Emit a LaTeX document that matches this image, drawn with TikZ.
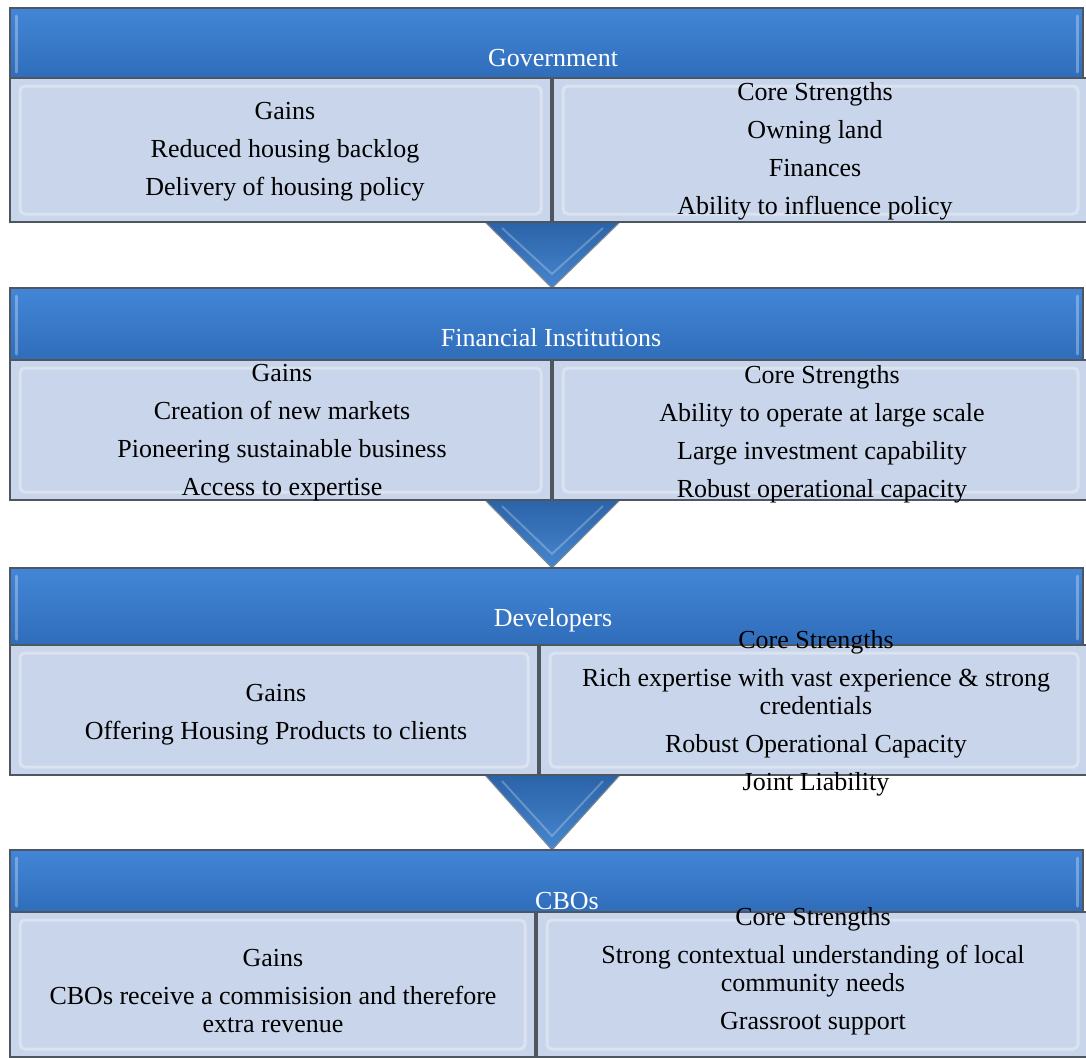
\documentclass[tikz,border=0pt]{standalone}
\usepackage{fontspec}
\setmainfont{Liberation Serif}
\definecolor{hdrtop}{HTML}{4386D7}
\definecolor{hdrbot}{HTML}{2F6DBA}
\definecolor{cell}{HTML}{C8D5EA}
\definecolor{edge}{HTML}{4E5660}
\definecolor{arrtop}{HTML}{2B63A8}
\definecolor{arrbot}{HTML}{4686CE}
\tikzset{
  hdrbox/.style={draw=edge, line width=1.2pt, top color=hdrtop, bottom color=hdrbot},
  hdrhl/.style={draw=white, line width=3pt, opacity=0.3, line cap=round},
  cellbox/.style={draw=edge, line width=1.2pt, fill=cell},
  cellhl/.style={draw=white, line width=3pt, opacity=0.35, rounded corners=5pt},
  arrowshape/.style={draw=edge!70, line width=1pt, top color=arrtop, bottom color=arrbot},
  hdrtxt/.style={text=white, font=\fontsize{26}{28}\selectfont, inner sep=0pt},
  celltxt/.style={text=black, font=\fontsize{26}{28}\selectfont, align=center, inner sep=0pt}
}
\newcommand{\sectionrow}[4]{%
  % #1 header top, #2 header bottom, #3 cell bottom, #4 divider x
  \path[hdrbox] (10,#1) rectangle (1083,#2);
  \path[hdrhl] (16,#1+8) -- (16,#2-6);
  \path[hdrhl] (1077,#1+8) -- (1077,#2-6);
  \path[cellbox] (10,#2) rectangle (#4,#3);
  \path[cellbox] (#4+2,#2) rectangle (1090,#3);
  \path[cellhl] (20,#2+8) rectangle (#4-10,#3-8);
  \path[cellhl] (#4+12,#2+8) rectangle (1078,#3-8);
}
\newcommand{\downarrowshape}[2]{%
  \path[arrowshape] (485,#1) -- (620,#1) -- (552,#2) -- cycle;
  \path[draw=white, opacity=0.25, line width=2pt] (502,#1+6) -- (552,#2-14) -- (603,#1+6);
}
\begin{document}
\begin{tikzpicture}[x=1pt,y=-1pt]
  \useasboundingbox (0,0) rectangle (1086,1057);
  \fill[white] (0,0) rectangle (1086,1057);

  % arrows (behind boxes)
  \downarrowshape{222}{288}
  \downarrowshape{500}{568}
  \downarrowshape{775}{850}

  % sections
  \sectionrow{8}{78}{222}{551}
  \sectionrow{288}{360}{500}{551}
  \sectionrow{568}{645}{775}{538}
  \sectionrow{850}{912}{1057}{535}

  % Government
  \node[hdrtxt] (govh) at (553,58) {Government};
  \node[celltxt] (govg) at (285,151.5) {Gains\\[10pt]Reduced housing backlog\\[10pt]Delivery of housing policy};
  \node[celltxt] (govc) at (815,151.5) {Core Strengths\\[10pt]Owning land\\[10pt]Finances\\[10pt]Ability to influence policy};

  % Financial Institutions
  \node[hdrtxt] (finh) at (551,338) {Financial Institutions};
  \node[celltxt] (fing) at (282,433) {Gains\\[10pt]Creation of new markets\\[10pt]Pioneering sustainable business\\[10pt]Access to expertise};
  \node[celltxt] (finc) at (822,434) {Core Strengths\\[10pt]Ability to operate at large scale\\[10pt]Large investment capability\\[10pt]Robust operational capacity};

  % Developers
  \node[hdrtxt] (devh) at (553,620) {Developers};
  \node[celltxt] (devg) at (276,715) {Gains\\[10pt]Offering Housing Products to clients};
  \node[celltxt] (devc) at (816,713) {Core Strengths\\[10pt]Rich expertise with vast experience \& strong\\credentials\\[10pt]Robust Operational Capacity\\[10pt]Joint Liability};

  % CBOs
  \node[hdrtxt] (cboh) at (567,901) {CBOs};
  \node[celltxt] (cbog) at (273,991) {Gains\\[10pt]CBOs receive a commisision and therefore\\extra revenue};
  \node[celltxt] (cboc) at (813,971.5) {Core Strengths\\[10pt]Strong contextual understanding of local\\community needs\\[10pt]Grassroot support};
\end{tikzpicture}
\end{document}
